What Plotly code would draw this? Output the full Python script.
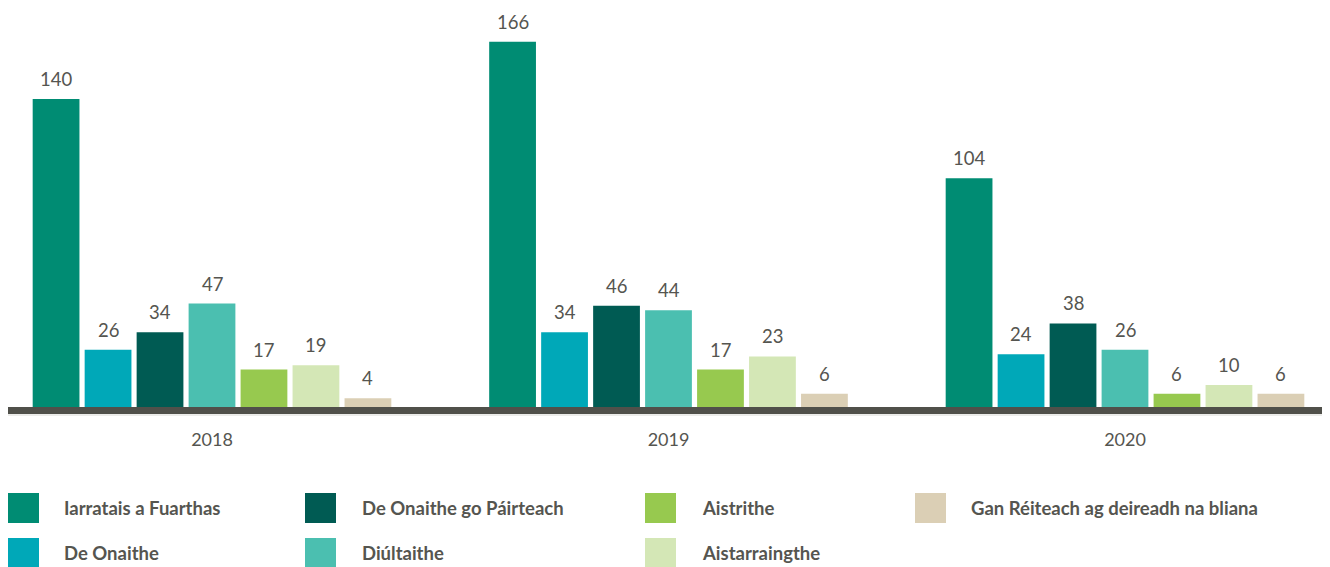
import plotly.graph_objects as go

# ---- data ----
years = ["2018", "2019", "2020"]
series_names = [
    "Iarratais a Fuarthas",
    "De Onaithe",
    "De Onaithe go Páirteach",
    "Diúltaithe",
    "Aistrithe",
    "Aistarraingthe",
    "Gan Réiteach ag deireadh na bliana",
]
iarratais = [140, 166, 104]
de_onaithe = [26, 34, 24]
pairteach = [34, 46, 38]
diultaithe = [47, 44, 26]
aistrithe = [17, 17, 6]
aistarraingthe = [19, 23, 10]
gan_reiteach = [4, 6, 6]
series_values = [iarratais, de_onaithe, pairteach, diultaithe, aistrithe, aistarraingthe, gan_reiteach]
colors = ["#008c73", "#00a8b8", "#005b53", "#4bbfb0", "#97c94f", "#d4e7b6", "#dbcfb5"]

# legend grid placement (column, row) for each series
legend_cells = [(0, 0), (0, 1), (1, 0), (1, 1), (2, 0), (2, 1), (3, 0)]

OFF = 8  # page body margin
W, H = 1330 - OFF, 567 - OFF
ML, MR, MT, MB = 0, 3, 12, 160
BARGAP = 0.203
TEXT_COLOR = "#555550"
FONT = "Lato, 'Open Sans', sans-serif"
PX_PER_UNIT = 2.2

xpos = list(range(len(years)))
n = len(series_names)

fig = go.Figure()
for k, (name, vals, col) in enumerate(zip(series_names, series_values, colors)):
    fig.add_trace(go.Bar(x=xpos, y=vals, name=name, marker=dict(color=col, line=dict(width=0)),
                         showlegend=False, hoverinfo="y+name"))

# value labels above bars, positioned through the x scale
pitch = (1 - BARGAP) / n
annotations = []
for k, vals in enumerate(series_values):
    for i, v in enumerate(vals):
        annotations.append(dict(
            x=xpos[i] + (k - (n - 1) / 2) * pitch, y=v, xref="x", yref="y",
            text=str(v), showarrow=False, yanchor="bottom", yshift=7,
            font=dict(family=FONT, size=18.5, color=TEXT_COLOR)))

# custom legend (large square swatches)
plot_w = W - ML - MR
plot_h = H - MT - MB
def px_x(px):
    return (px - OFF - ML) / plot_w
def px_y(py):
    return (H - MB - (py - OFF)) / plot_h

col_sq_x = [8, 305, 645, 915]
col_txt_x = [62, 360, 700, 969]
row_top = [493, 538]
SQ_W, SQ_H = 31, 30
shapes = []
for k, (name, col) in enumerate(zip(series_names, colors)):
    c, r = legend_cells[k]
    shapes.append(dict(type="rect", xref="paper", yref="paper",
                       x0=px_x(col_sq_x[c]), x1=px_x(col_sq_x[c] + SQ_W),
                       y0=px_y(row_top[r] + SQ_H), y1=px_y(row_top[r]),
                       fillcolor=col, line=dict(width=0)))
    annotations.append(dict(x=px_x(col_txt_x[c]), y=px_y(row_top[r] + SQ_H / 2),
                            xref="paper", yref="paper", xanchor="left", yanchor="middle",
                            text="<b>" + name + "</b>", showarrow=False,
                            font=dict(family=FONT, size=18.5, color=TEXT_COLOR)))

# thin light line under the axis
shapes.append(dict(type="line", xref="paper", yref="paper", x0=0, x1=1,
                   y0=px_y(415), y1=px_y(415), line=dict(color="#d9d9d4", width=1)))

# x range so that group centres sit at 212, 668, 1125 px
slot = 456.5
x_left = (OFF + ML - 212) / slot
x_right = x_left + plot_w / slot
fig.update_layout(
    width=W, height=H,
    margin=dict(l=ML, r=MR, t=MT, b=MB),
    paper_bgcolor="white", plot_bgcolor="white",
    barmode="group", bargap=BARGAP, bargroupgap=0.1,
    xaxis=dict(range=[x_left, x_right], tickvals=xpos, ticktext=years,
               showline=True, linewidth=7, linecolor="#50504a",
               showgrid=False, zeroline=False, ticks="outside", ticklen=10,
               tickcolor="rgba(0,0,0,0)",
               tickfont=dict(family=FONT, size=18, color=TEXT_COLOR)),
    yaxis=dict(range=[0, plot_h / PX_PER_UNIT], visible=False, showgrid=False, zeroline=False),
    annotations=annotations, shapes=shapes,
    showlegend=False,
    font=dict(family=FONT, color=TEXT_COLOR),
)

fig.write_html("out.html")
